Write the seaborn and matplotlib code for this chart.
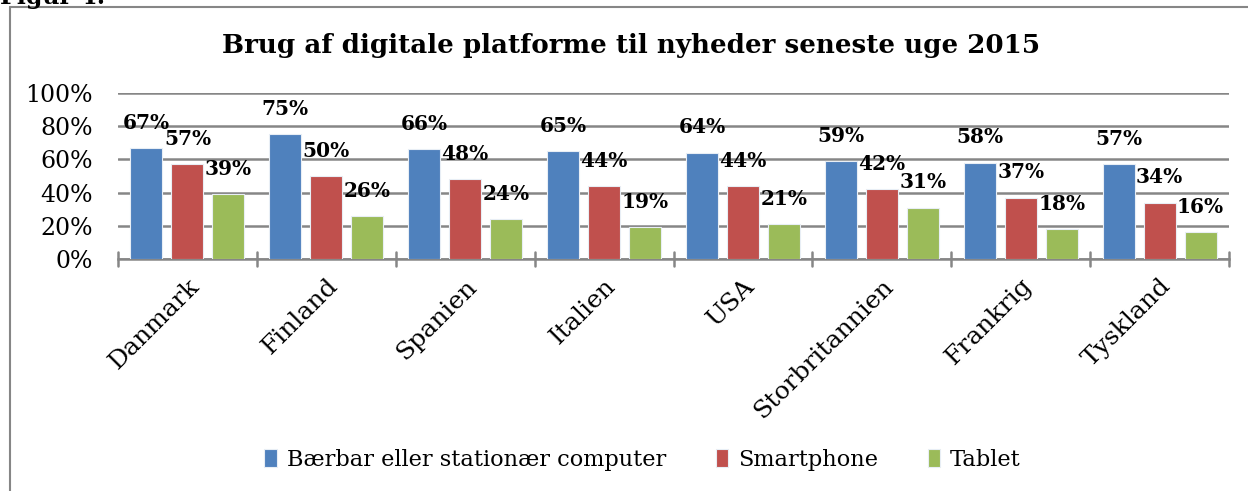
import matplotlib
matplotlib.use("Agg")
import matplotlib.pyplot as plt
import seaborn as sns
import pandas as pd
from matplotlib.lines import Line2D
from matplotlib.ticker import FuncFormatter

countries = ["Danmark", "Finland", "Spanien", "Italien", "USA",
             "Storbritannien", "Frankrig", "Tyskland"]
computer = [67, 75, 66, 65, 64, 59, 58, 57]
smartphone = [57, 50, 48, 44, 44, 42, 37, 34]
tablet = [39, 26, 24, 19, 21, 31, 18, 16]
series = ["Bærbar eller stationær computer", "Smartphone", "Tablet"]
colors = ["#4F81BD", "#C0504D", "#9BBB59"]
title = "Brug af digitale platforme til nyheder seneste uge 2015"
yticks = [0, 20, 40, 60, 80, 100]

rows = []
for name, vals in zip(series, [computer, smartphone, tablet]):
    for c, v in zip(countries, vals):
        rows.append({"Land": c, "Platform": name, "Andel": v})
df = pd.DataFrame(rows)

sns.set_theme(style="white")
plt.rcParams["font.family"] = ["DejaVu Serif"]
for k in ["text.color", "axes.labelcolor", "xtick.color", "ytick.color"]:
    plt.rcParams[k] = "black"

fig = plt.figure(figsize=(12.48, 4.91), dpi=100)
ax = fig.add_axes([118/1248, 1 - 259/491, 1111/1248, 166/491])

sns.barplot(data=df, x="Land", y="Andel", hue="Platform", order=countries,
            hue_order=series, palette=colors, width=0.885, gap=0.22,
            edgecolor="#e8eef5", linewidth=0.8, ax=ax, saturation=1,
            legend=True, zorder=3)

ax.set_ylim(0, 100)
ax.set_xlim(-0.5, len(countries) - 0.5)
ax.set_yticks(yticks)
ax.yaxis.set_major_formatter(FuncFormatter(lambda v, p: f"{int(v)}%"))
ax.yaxis.grid(True, color="#868686", linewidth=1.8, zorder=0)
ax.set_axisbelow(True)
ax.set_xlabel("")
ax.set_ylabel("")
for s in ["left", "right", "top"]:
    ax.spines[s].set_visible(False)
ax.spines["bottom"].set_color("#868686")
ax.spines["bottom"].set_linewidth(1.8)
ax.tick_params(axis="y", length=0, labelsize=17, pad=18)
for lab in ax.get_yticklabels():
    lab.set_horizontalalignment("right")

ax.set_xticks(range(len(countries)))
ax.set_xticklabels(countries, rotation=45, ha="right", va="top",
                   rotation_mode="anchor")
ax.tick_params(axis="x", length=0, labelsize=18, pad=11)
for b in [i - 0.5 for i in range(len(countries) + 1)]:
    ax.plot([b, b], [4.5, -4.5], color="#868686", linewidth=1.8,
            clip_on=False, zorder=2)

for cont in ax.containers:
    ax.bar_label(cont, labels=[f"{int(v)}%" for v in cont.datavalues],
                 padding=11, fontsize=14.5, fontweight="bold")

leg = ax.legend(loc="center", bbox_to_anchor=(0.515, (491 - 460) / 491),
                bbox_transform=fig.transFigure, ncol=3, frameon=False,
                fontsize=16.2, handlelength=0.55, handleheight=0.85,
                handletextpad=0.45, columnspacing=2.2)

fig.text(0.506, 1 - 45/491, title, ha="center", va="center",
         fontsize=18.8, fontweight="bold")
fig.text(0.0, 1 - 4/491, "Figur 4:", ha="left", va="baseline",
         fontsize=17, fontweight="bold")

fig.add_artist(Line2D([10/1248, 10/1248], [0, 1 - 7/491],
                      transform=fig.transFigure, color="#868686", lw=1.5))
fig.add_artist(Line2D([10/1248, 1], [1 - 7/491, 1 - 7/491],
                      transform=fig.transFigure, color="#868686", lw=1.5))

fig.savefig("out.png", dpi=100)
